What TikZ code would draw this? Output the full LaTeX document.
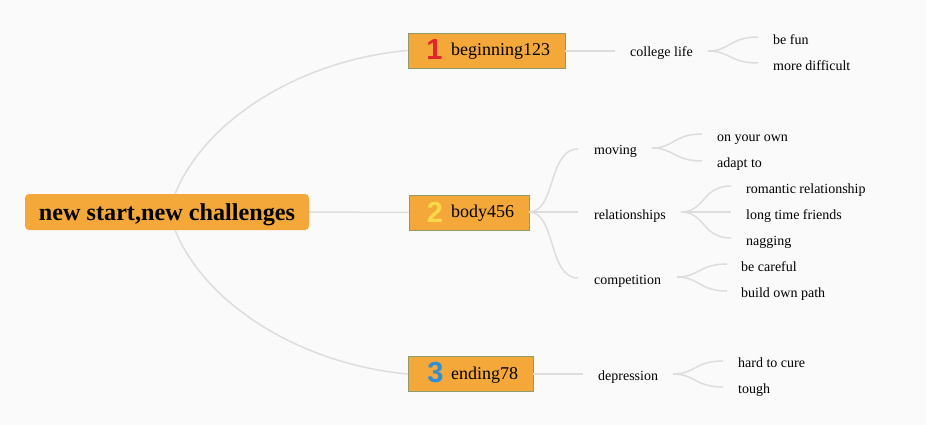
\documentclass[tikz,border=0pt]{standalone}
\usepackage{fontspec}
\setmainfont{Liberation Serif}
\newfontfamily\iconfont{Liberation Sans}
\begin{document}
\begin{tikzpicture}[x=1pt,y=-1pt,
  box/.style={draw=boxedge,fill=orangefill,line width=0.9pt,inner sep=0pt,minimum height=35pt},
  rootbox/.style={fill=orangefill,rounded corners=4pt,inner sep=0pt,minimum width=284pt,minimum height=36pt},
  lbl/.style={anchor=base west,inner sep=0pt,font=\fontsize{14}{14}\selectfont},
  mainlbl/.style={anchor=base west,inner sep=0pt,font=\fontsize{18}{18}\selectfont},
  icon/.style={anchor=base,inner sep=0pt,font=\iconfont\bfseries\fontsize{29}{29}\selectfont},
  link/.style={draw=linegray,line width=1.5pt}
]
\definecolor{bg}{HTML}{FAFAFA}
\definecolor{orangefill}{HTML}{F4A83A}
\definecolor{boxedge}{HTML}{8E9C6C}
\definecolor{linegray}{HTML}{DDDDDD}
\definecolor{iconred}{HTML}{E0262B}
\definecolor{iconyellow}{HTML}{F8D94A}
\definecolor{iconblue}{HTML}{2F8ED6}
\fill[bg] (0,0) rectangle (926,425);
\useasboundingbox (0,0) rectangle (926,425);

% root
\node[rootbox] (root) at (167,212) {};
\node[anchor=base,inner sep=0pt,font=\bfseries\fontsize{24.2}{24.2}\selectfont] (roottxt) at (167,220.5) {new start,new challenges};

% main boxes
\node[box,minimum width=157pt] (b1) at (486.5,50.5) {};
\node[box,minimum width=120pt] (b2) at (469,212.5) {};
\node[box,minimum width=125pt] (b3) at (470.5,374) {};

\node[icon,text=iconred] (i1) at (434.5,59.5) {1};
\node[icon,text=iconyellow] (i2) at (435,222.5) {2};
\node[icon,text=iconblue] (i3) at (435.5,382) {3};

\node[mainlbl] (t1) at (451,55.5) {beginning123};
\node[mainlbl] (t2) at (451,217.5) {body456};
\node[mainlbl] (t3) at (451,379) {ending78};

% root connectors
\coordinate (rt) at (175,194);
\coordinate (rb) at (175,230);
\draw[link] (rt) .. controls (205,120) and (300,60) .. (b1.west);
\draw[link] (root.east) -- (b2.west);
\draw[link] (rb) .. controls (205,304) and (300,364) .. (b3.west);

% level 2 labels
\node[lbl] (college) at (630,57) {college life};
\node[lbl] (moving) at (594,154) {moving};
\node[lbl] (rel) at (594,219) {relationships};
\node[lbl] (comp) at (594,284.5) {competition};
\node[lbl] (dep) at (598,380) {depression};

% level 3 labels
\node[lbl] (fun) at (773,44.2) {be fun};
\node[lbl] (diff) at (773,70.2) {more difficult};
\node[lbl] (own) at (717,141.2) {on your own};
\node[lbl] (adapt) at (717,167.2) {adapt to};
\node[lbl] (rom) at (746,193.2) {romantic relationship};
\node[lbl] (long) at (746,219.2) {long time friends};
\node[lbl] (nag) at (746,245.2) {nagging};
\node[lbl] (care) at (741,271.2) {be careful};
\node[lbl] (path) at (741,297.2) {build own path};
\node[lbl] (hard) at (738,367.5) {hard to cure};
\node[lbl] (tough) at (738,393.5) {tough};

% branch 1
\coordinate (c1a) at (615,51);
\draw[link] (b1.east |- 0,51) -- (c1a);
\coordinate (c1s) at (708,51);
\coordinate (c1t) at (758,37);
\coordinate (c1b) at (758,63);
\draw[link] (c1s) .. controls (730,51) and (730,37) .. (c1t);
\draw[link] (c1s) .. controls (730,51) and (730,63) .. (c1b);

% branch 2
\coordinate (b2s) at (529,212);
\coordinate (m2) at (578,149);
\coordinate (r2) at (578,212);
\coordinate (c2) at (578,278);
\draw[link] (b2s) .. controls (556,212) and (548,149) .. (m2);
\draw[link] (b2s) -- (r2);
\draw[link] (b2s) .. controls (556,212) and (548,278) .. (c2);

\coordinate (ms) at (652,148);
\coordinate (mt) at (702,134);
\coordinate (mb) at (702,161);
\draw[link] (ms) .. controls (674,148) and (674,134) .. (mt);
\draw[link] (ms) .. controls (674,148) and (674,161) .. (mb);

\coordinate (rs) at (681,212);
\coordinate (rt3) at (731,186);
\coordinate (rm3) at (731,212);
\coordinate (rb3) at (731,238);
\draw[link] (rs) .. controls (705,212) and (702,186) .. (rt3);
\draw[link] (rs) -- (rm3);
\draw[link] (rs) .. controls (705,212) and (702,238) .. (rb3);

\coordinate (cs) at (677,277);
\coordinate (ct) at (727,264);
\coordinate (cb) at (727,291);
\draw[link] (cs) .. controls (699,277) and (699,264) .. (ct);
\draw[link] (cs) .. controls (699,277) and (699,291) .. (cb);

% branch 3
\coordinate (d3a) at (583,374);
\draw[link] (b3.east) -- (d3a);
\coordinate (ds) at (673,374);
\coordinate (dt) at (723,361);
\coordinate (db) at (723,387);
\draw[link] (ds) .. controls (695,374) and (695,361) .. (dt);
\draw[link] (ds) .. controls (695,374) and (695,387) .. (db);
\end{tikzpicture}
\end{document}
